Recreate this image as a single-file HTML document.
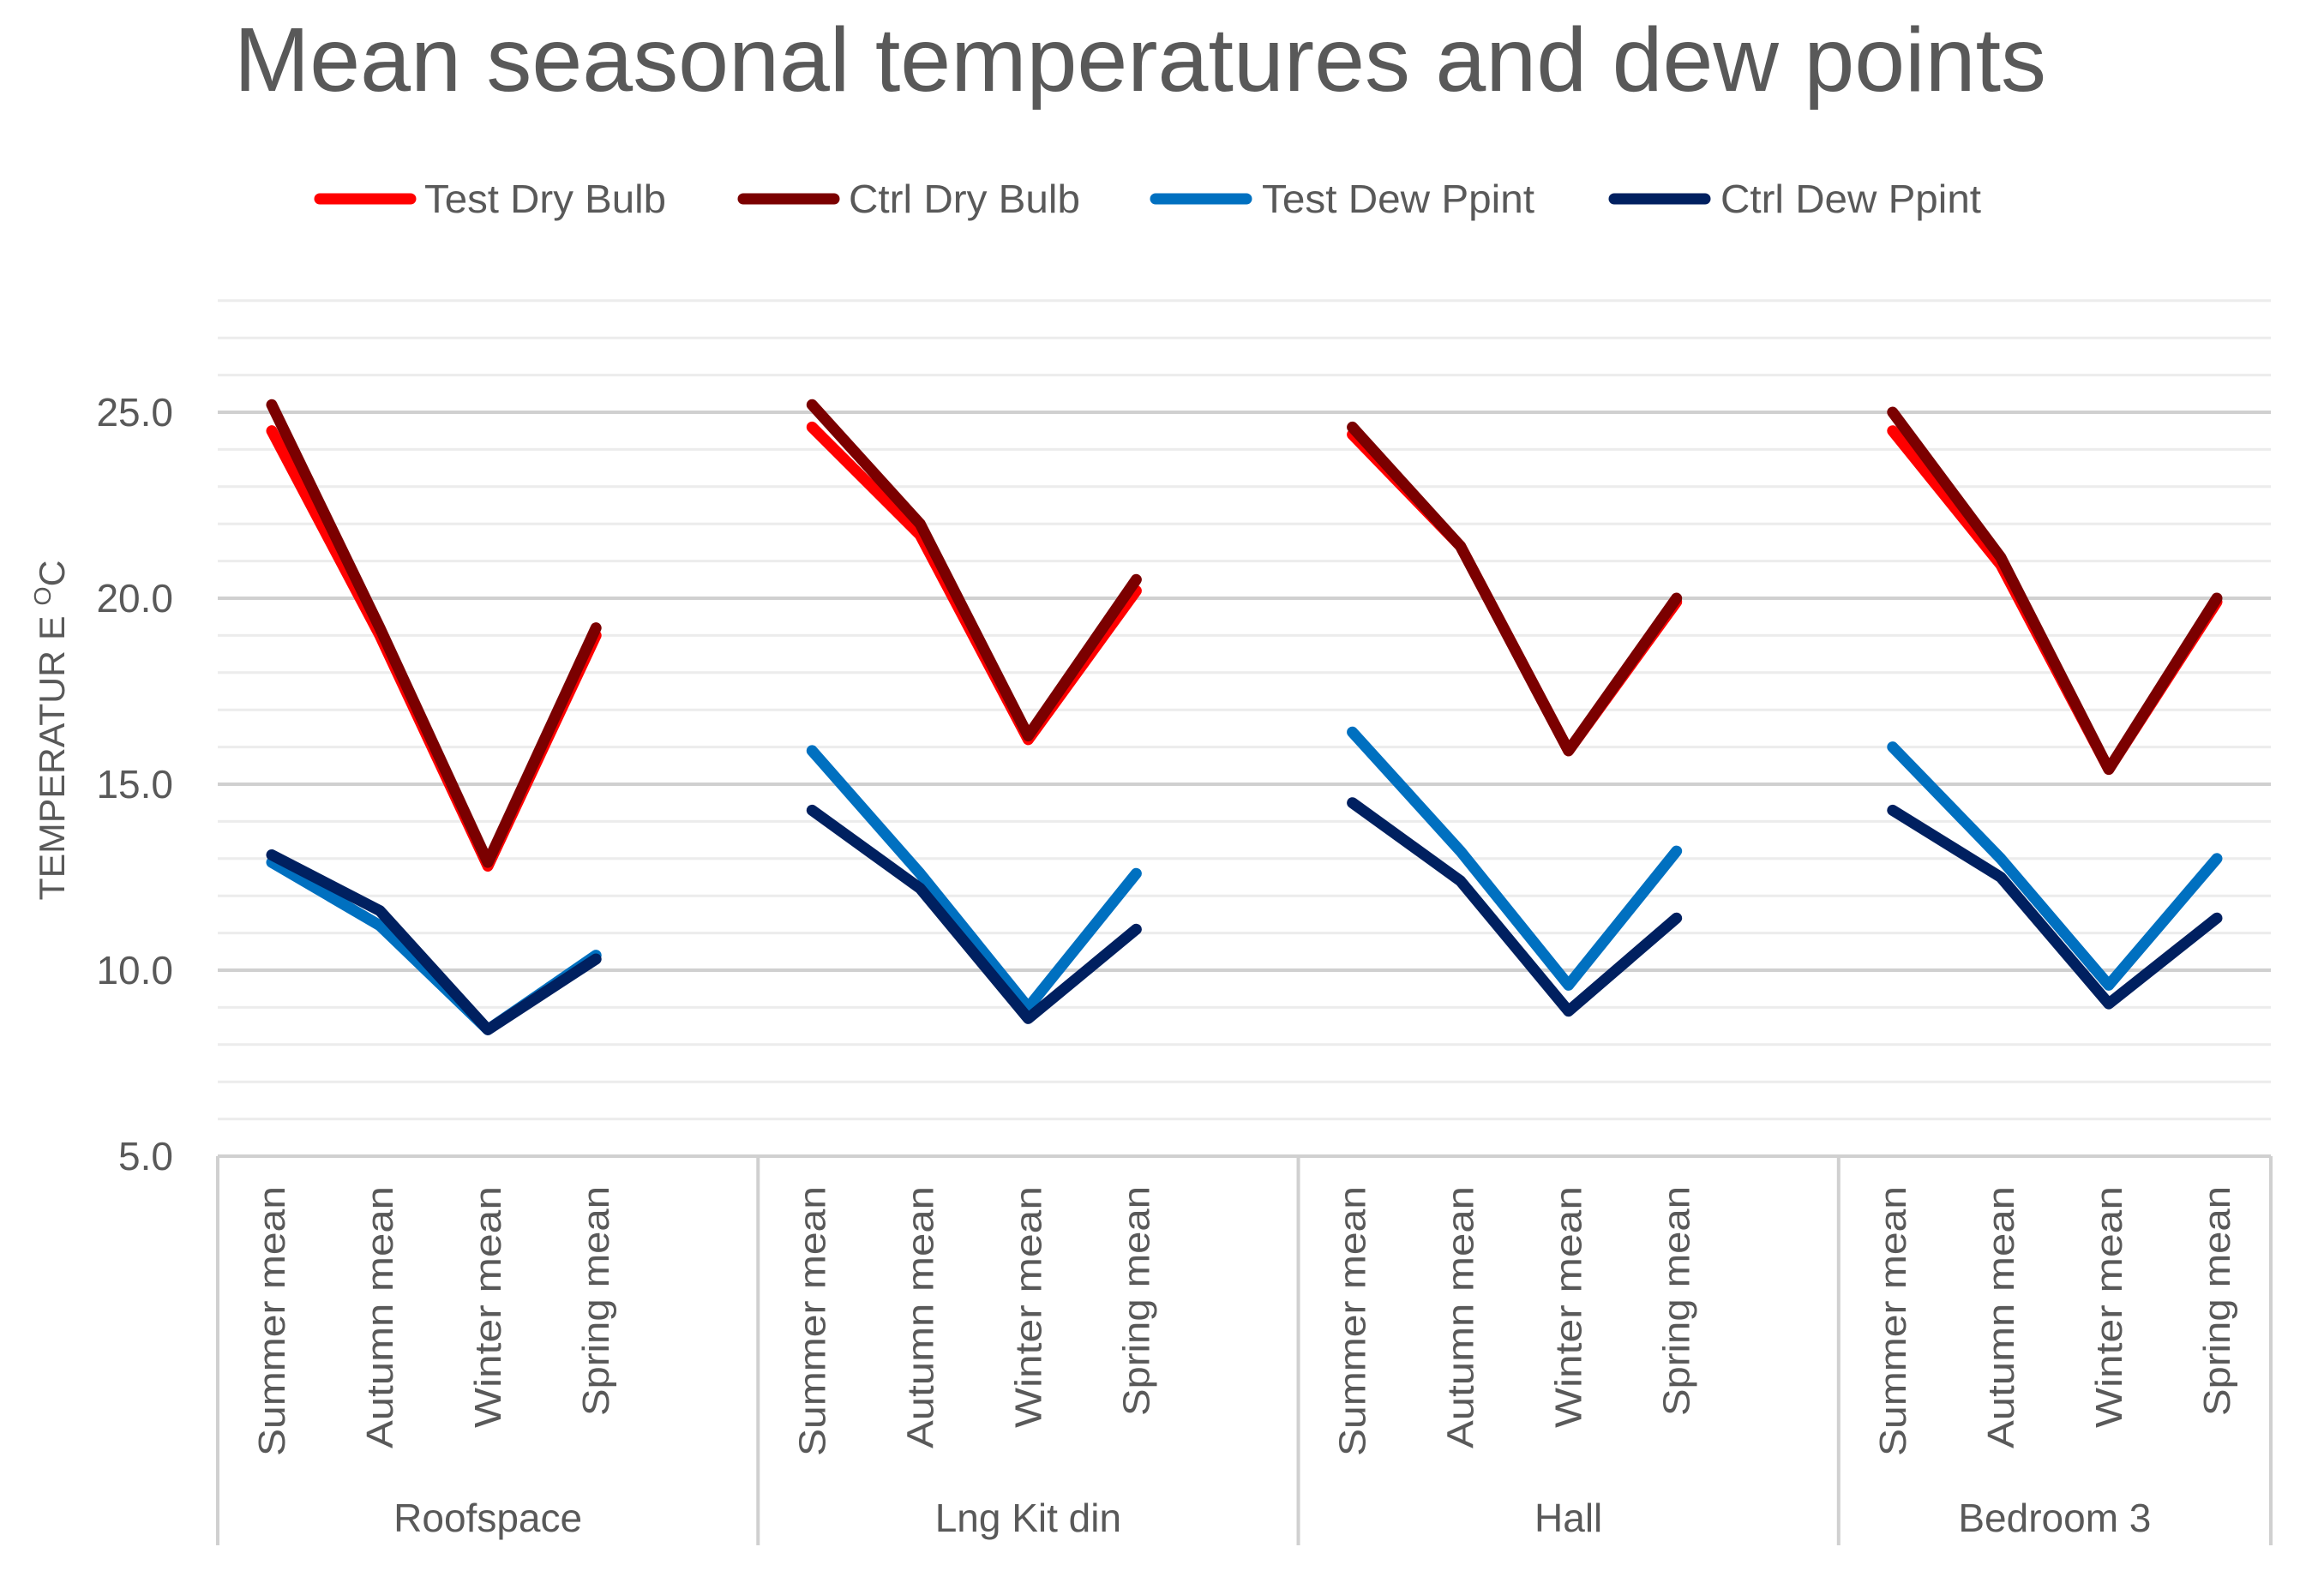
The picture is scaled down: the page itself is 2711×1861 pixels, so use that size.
<!DOCTYPE html>
<html><head><meta charset="utf-8"><style>
html,body{margin:0;padding:0;background:#fff}
svg{display:block}
text{font-family:"Liberation Sans",sans-serif;fill:#595959}
</style></head><body>
<svg id="chart" width="2711" height="1861" viewBox="0 0 2711 1861" xmlns="http://www.w3.org/2000/svg">
<text x="273" y="106" font-size="106" textLength="2114" lengthAdjust="spacingAndGlyphs">Mean seasonal temperatures and dew points</text>
<g id="legend"></g>
<g id="grid"></g>
<g id="axes"></g>
<g id="series"></g>
<text transform="translate(75,852) rotate(-90)" text-anchor="middle" font-size="42" textLength="397" lengthAdjust="spacingAndGlyphs">TEMPERATUR E <tspan font-size="28" dy="-16">O</tspan><tspan dy="16">C</tspan></text>
</svg>
<script>
const groups = ["Roofspace","Lng Kit din","Hall","Bedroom 3"];
const seasons = ["Summer mean","Autumn mean","Winter mean","Spring mean"];
const seriesNames = ["Test Dry Bulb","Ctrl Dry Bulb","Test Dew Ppint","Ctrl Dew Ppint"];
const testDry = [24.5,19.0,12.8,19.0, 24.6,21.7,16.2,20.2, 24.4,21.4,15.9,19.9, 24.5,20.9,15.4,19.9];
const ctrlDry = [25.2,19.2,12.9,19.2, 25.2,22.0,16.3,20.5, 24.6,21.4,15.9,20.0, 25.0,21.1,15.4,20.0];
const testDew = [12.9,11.2,8.4,10.4, 15.9,12.6,9.0,12.6, 16.4,13.2,9.6,13.2, 16.0,13.0,9.6,13.0];
const ctrlDew = [13.1,11.6,8.4,10.3, 14.3,12.2,8.7,11.1, 14.5,12.4,8.9,11.4, 14.3,12.5,9.1,11.4];
const yTickLabels = ["5.0","10.0","15.0","20.0","25.0"];
const yMin = 5, yMax = 28;

const NS = "http://www.w3.org/2000/svg";
const left = 254, right = 2649, yBottomPx = 1349, pxPerUnit = 43.4;
const nCats = 19, catW = (right-left)/nCats;
function y(v){ return yBottomPx - (v - yMin)*pxPerUnit; }
function catIndex(g,s){ return g*5 + s; }
function x(i){ return left + catW*(i+0.5); }
function mk(tag, attrs, parent){ const e=document.createElementNS(NS,tag); for(const k in attrs) e.setAttribute(k,attrs[k]); parent.appendChild(e); return e; }

const grid = document.getElementById('grid');
for(let v=yMin+1; v<=yMax; v++){
  const l = mk('line',{x1:left,x2:right,y1:y(v),y2:y(v),stroke:(v%5===0)?'#d0d0d0':'#ececec','stroke-width':(v%5===0)?4:3},grid);
  
  
}
const axes = document.getElementById('axes');
yTickLabels.forEach(t=>{
  const tx = mk('text',{x:202,y:y(parseFloat(t))+16,'text-anchor':'end','font-size':46},axes);
  tx.textContent = t;
  
  
});
const base = mk('line',{x1:left,x2:right,y1:yBottomPx,y2:yBottomPx,stroke:'#d0d0d0','stroke-width':4},axes);


const seps = [0,5,10,15,19];
seps.forEach(c=>{
  const xx = left + c*catW;
  const l = mk('line',{x1:xx,x2:xx,y1:yBottomPx,y2:1803,stroke:'#d0d0d0','stroke-width':4},axes);
  
  
});
const labLen = [315,306,282,268];
groups.forEach((g,gi)=>{
  seasons.forEach((s,si)=>{
    const cx = x(catIndex(gi,si));
    const t = mk('text',{transform:`translate(${cx+15},1384) rotate(-90)`,'text-anchor':'end','font-size':44,textLength:labLen[si],lengthAdjust:'spacingAndGlyphs'},axes);
    t.textContent = s;
    
    
  });
  const c0 = seps[gi], c1 = seps[gi+1];
  const gx = left + catW*(c0+c1)/2;
  const gt = mk('text',{x:gx,y:1787,'text-anchor':'middle','font-size':46},axes);
  gt.textContent = g;
  
  
});

const colors = ["#ff0000","#7b0000","#0070c0","#002060"];
const data = [testDry, ctrlDry, testDew, ctrlDew];
const seriesG = document.getElementById('series');
data.forEach((arr,si)=>{
  groups.forEach((g,gi)=>{
    const pts = [];
    for(let s=0;s<4;s++){ pts.push(x(catIndex(gi,s)).toFixed(1)+','+y(arr[gi*4+s]).toFixed(1)); }
    const p = mk('polyline',{points:pts.join(' '),fill:'none',stroke:colors[si],'stroke-width':13,'stroke-linejoin':'round','stroke-linecap':'round'},seriesG);
    
    
  });
});

const legend = document.getElementById('legend');
const legLine = [367, 861, 1342, 1877];
const legText = [495, 990, 1472, 2007];
const legW = [282, 270, 318, 304];
seriesNames.forEach((n,i)=>{
  const l = mk('line',{x1:legLine[i]+6,x2:legLine[i]+112,y1:232,y2:232,stroke:colors[i],'stroke-width':13,'stroke-linecap':'round'},legend);
  
  
  const t = mk('text',{x:legText[i],y:248,'font-size':46,textLength:legW[i],lengthAdjust:'spacingAndGlyphs'},legend);
  t.textContent = n;
  
  
});
</script>
</body></html>
